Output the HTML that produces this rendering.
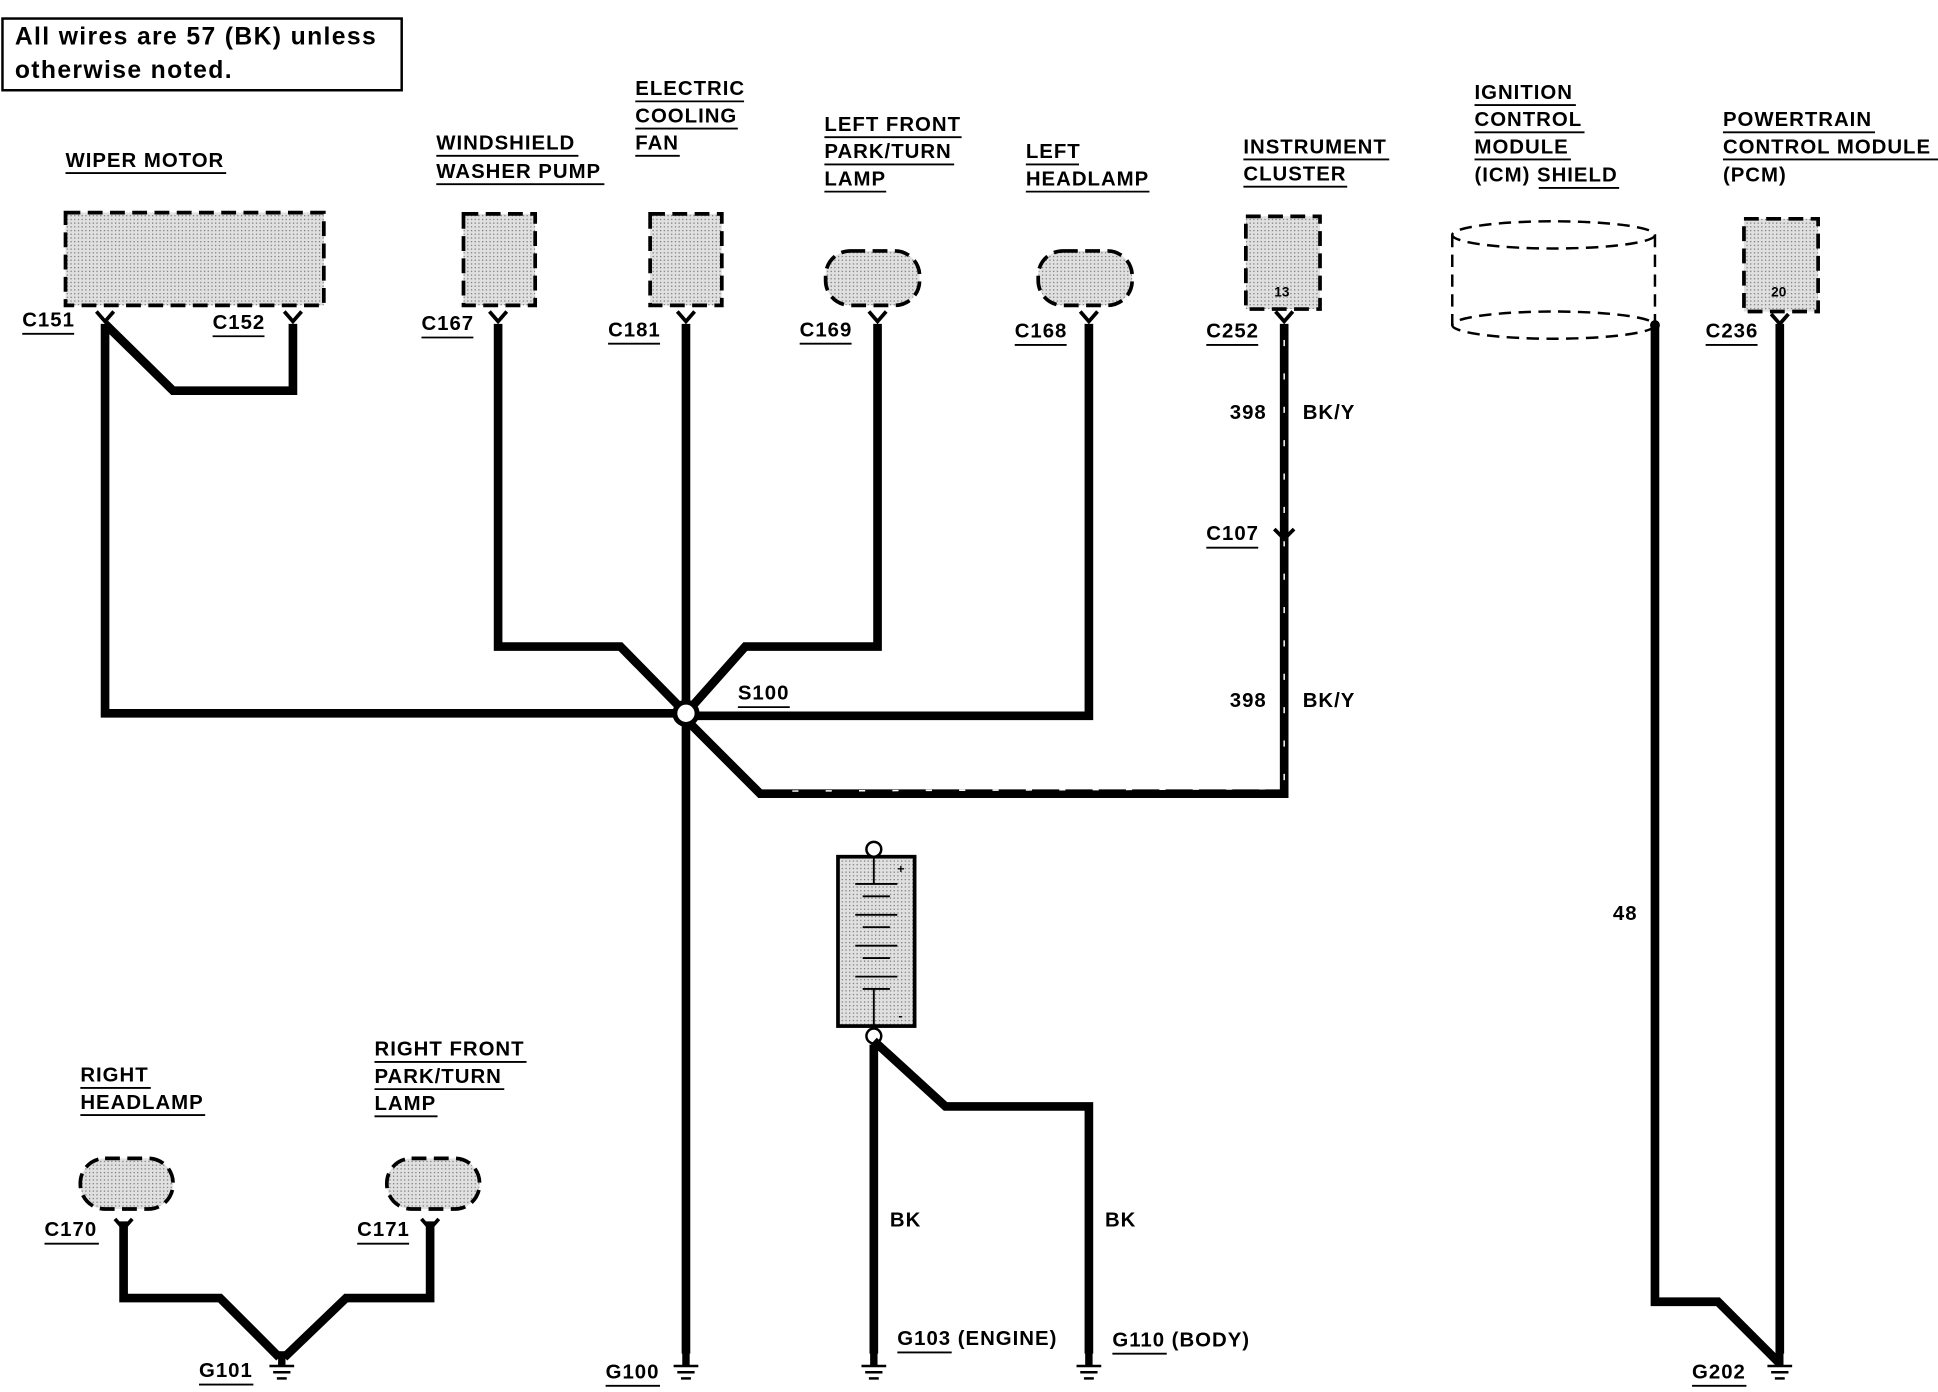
<!DOCTYPE html>
<html><head><meta charset="utf-8"><style>
html,body{margin:0;padding:0;background:#fff;}
svg{display:block;}
text{font-family:"Liberation Sans",Arial,sans-serif;font-weight:bold;fill:#000;}
.l text{font-size:16.5px;letter-spacing:0.8px;}
</style></head><body>
<svg width="1938" height="1392" viewBox="0 0 1568 1126" preserveAspectRatio="none" xmlns="http://www.w3.org/2000/svg">
<defs>
<pattern id="dots" width="3" height="3" patternUnits="userSpaceOnUse"><rect width="3" height="3" fill="#e0e0e0"/><rect width="1" height="1" fill="#777"/></pattern>
<g id="gnd"><line x1="0" y1="-12" x2="0" y2="0" stroke="#000" stroke-width="6"/><line x1="-10" y1="0" x2="10" y2="0" stroke="#000" stroke-width="2"/><line x1="-7" y1="5" x2="7" y2="5" stroke="#000" stroke-width="2"/><line x1="-4" y1="10" x2="4" y2="10" stroke="#000" stroke-width="2"/></g>
<g id="con"><path d="M-7,-6 L0,2 L7,-6" fill="none" stroke="#000" stroke-width="3"/></g>
</defs>
<rect x="2" y="15" width="323" height="58" fill="#fff" stroke="#000" stroke-width="2"/>
<text x="12" y="36" font-size="20" letter-spacing="1.1">All wires are 57 (BK) unless</text>
<text x="12" y="63" font-size="20" letter-spacing="1.1">otherwise noted.</text>

<g class="l">
<text x="53" y="135">WIPER MOTOR</text><line x1="53" y1="140" x2="183" y2="140" stroke="#000" stroke-width="1.5"/>
<text x="353" y="121">WINDSHIELD</text><line x1="353" y1="126" x2="468" y2="126" stroke="#000" stroke-width="1.5"/>
<text x="353" y="144">WASHER PUMP</text><line x1="353" y1="149" x2="489" y2="149" stroke="#000" stroke-width="1.5"/>
<text x="514" y="77">ELECTRIC</text><line x1="514" y1="82" x2="602" y2="82" stroke="#000" stroke-width="1.5"/>
<text x="514" y="99">COOLING</text><line x1="514" y1="104" x2="597" y2="104" stroke="#000" stroke-width="1.5"/>
<text x="514" y="121">FAN</text><line x1="514" y1="126" x2="550" y2="126" stroke="#000" stroke-width="1.5"/>
<text x="667" y="106">LEFT FRONT</text><line x1="667" y1="111" x2="778" y2="111" stroke="#000" stroke-width="1.5"/>
<text x="667" y="128">PARK/TURN</text><line x1="667" y1="133" x2="772" y2="133" stroke="#000" stroke-width="1.5"/>
<text x="667" y="150">LAMP</text><line x1="667" y1="155" x2="717" y2="155" stroke="#000" stroke-width="1.5"/>
<text x="830" y="128">LEFT</text><line x1="830" y1="133" x2="873" y2="133" stroke="#000" stroke-width="1.5"/>
<text x="830" y="150">HEADLAMP</text><line x1="830" y1="155" x2="930" y2="155" stroke="#000" stroke-width="1.5"/>
<text x="1006" y="124">INSTRUMENT</text><line x1="1006" y1="129" x2="1124" y2="129" stroke="#000" stroke-width="1.5"/>
<text x="1006" y="146">CLUSTER</text><line x1="1006" y1="151" x2="1090" y2="151" stroke="#000" stroke-width="1.5"/>
<text x="1193" y="80">IGNITION</text><line x1="1193" y1="85" x2="1275" y2="85" stroke="#000" stroke-width="1.5"/>
<text x="1193" y="102">CONTROL</text><line x1="1193" y1="107" x2="1282" y2="107" stroke="#000" stroke-width="1.5"/>
<text x="1193" y="124">MODULE</text><line x1="1193" y1="129" x2="1271" y2="129" stroke="#000" stroke-width="1.5"/>
<text x="1193" y="147">(ICM) SHIELD</text><line x1="1245" y1="152" x2="1310" y2="152" stroke="#000" stroke-width="1.5"/>
<text x="1394" y="102">POWERTRAIN</text><line x1="1394" y1="107" x2="1517" y2="107" stroke="#000" stroke-width="1.5"/>
<text x="1394" y="124">CONTROL MODULE</text><line x1="1394" y1="129" x2="1568" y2="129" stroke="#000" stroke-width="1.5"/>
<text x="1394" y="147">(PCM)</text>
<text x="65" y="875">RIGHT</text><line x1="65" y1="880" x2="122" y2="880" stroke="#000" stroke-width="1.5"/>
<text x="65" y="897">HEADLAMP</text><line x1="65" y1="902" x2="166" y2="902" stroke="#000" stroke-width="1.5"/>
<text x="303" y="854">RIGHT FRONT</text><line x1="303" y1="859" x2="426" y2="859" stroke="#000" stroke-width="1.5"/>
<text x="303" y="876">PARK/TURN</text><line x1="303" y1="881" x2="408" y2="881" stroke="#000" stroke-width="1.5"/>
<text x="303" y="898">LAMP</text><line x1="303" y1="903" x2="354" y2="903" stroke="#000" stroke-width="1.5"/>
</g>

<g fill="url(#dots)" stroke="#000" stroke-width="3" stroke-dasharray="12,6">
<rect x="53" y="172" width="209" height="75"/>
<rect x="375" y="173" width="58" height="74"/>
<rect x="526" y="173" width="58" height="74"/>
<rect x="668" y="203" width="76" height="44" rx="20"/>
<rect x="840" y="203" width="76" height="44" rx="20"/>
<rect x="1008" y="175" width="60" height="75"/>
<rect x="1411" y="177" width="60" height="75"/>
<rect x="65" y="937" width="75" height="41" rx="20"/>
<rect x="313" y="937" width="75" height="41" rx="20"/>
</g>
<text x="1031" y="240" font-size="11" font-weight="normal">13</text>
<text x="1433" y="240" font-size="11" font-weight="normal">20</text>
<g fill="none" stroke="#000" stroke-width="2" stroke-dasharray="10,6">
<ellipse cx="1257" cy="190" rx="82" ry="11"/>
<ellipse cx="1257" cy="263" rx="82" ry="11"/>
<line x1="1175" y1="190" x2="1175" y2="263"/>
<line x1="1339" y1="190" x2="1339" y2="263"/>
</g>
<circle cx="1339" cy="263" r="4" fill="#000"/>
<rect x="678" y="693" width="62" height="137" fill="url(#dots)" stroke="#000" stroke-width="3"/>
<g stroke="#000" stroke-width="1.5">
<line x1="692" y1="715" x2="726" y2="715"/><line x1="698" y1="725" x2="720" y2="725"/>
<line x1="692" y1="740" x2="726" y2="740"/><line x1="698" y1="750" x2="720" y2="750"/>
<line x1="692" y1="765" x2="726" y2="765"/><line x1="698" y1="775" x2="720" y2="775"/>
<line x1="692" y1="790" x2="726" y2="790"/><line x1="698" y1="800" x2="720" y2="800"/>
<line x1="707" y1="693" x2="707" y2="715"/><line x1="707" y1="800" x2="707" y2="830"/>
</g>
<text x="726" y="706" font-size="10">+</text><text x="727" y="825" font-size="10">-</text>
<circle cx="707" cy="687" r="6" fill="#fff" stroke="#000" stroke-width="2"/>
<circle cx="707" cy="838" r="6" fill="#fff" stroke="#000" stroke-width="2"/>

<g fill="none" stroke="#000" stroke-width="7" stroke-linejoin="miter">
<path d="M85,262 L85,577 L555,577"/>
<path d="M85,262 L140,316 L237,316 L237,262"/>
<path d="M403,262 L403,523 L502,523 L555,577"/>
<path d="M555,262 L555,1095"/>
<path d="M710,262 L710,523 L603,523 L555,577"/>
<path d="M881,262 L881,579 L555,579"/>
<path d="M1039,262 L1039,642 L615,642 L555,582"/>
<path d="M1339,263 L1339,1053 L1390,1053 L1440,1103"/>
<path d="M1440,262 L1440,1095"/>
<path d="M707,845 L707,1095"/>
<path d="M707,842 L765,895 L881,895 L881,1095"/>
<path d="M100,988 L100,1050 L178,1050 L226,1098"/>
<path d="M348,988 L348,1050 L280,1050 L230,1098"/>
</g>
<g fill="none" stroke="#fff" stroke-width="1.2" stroke-dasharray="5,22">
<path d="M1039,275 L1039,638 L620,640"/>
</g>
<circle cx="555" cy="577" r="9" fill="#fff" stroke="#000" stroke-width="4"/>
<use href="#con" x="85" y="258"/><use href="#con" x="237" y="258"/><use href="#con" x="403" y="258"/>
<use href="#con" x="555" y="258"/><use href="#con" x="710" y="258"/><use href="#con" x="881" y="258"/>
<use href="#con" x="1039" y="258"/><use href="#con" x="1440" y="260"/>
<use href="#con" x="100" y="992"/><use href="#con" x="348" y="992"/>
<path d="M1031,428 L1039,436 L1047,428" fill="none" stroke="#000" stroke-width="3"/>
<use href="#gnd" x="228" y="1105"/><use href="#gnd" x="555" y="1105"/><use href="#gnd" x="707" y="1105"/>
<use href="#gnd" x="881" y="1105"/><use href="#gnd" x="1440" y="1105"/>

<g class="l">
<text x="18" y="264">C151</text><line x1="18" y1="270" x2="60" y2="270" stroke="#000" stroke-width="1.5"/>
<text x="172" y="266">C152</text><line x1="172" y1="272" x2="214" y2="272" stroke="#000" stroke-width="1.5"/>
<text x="341" y="267">C167</text><line x1="341" y1="273" x2="383" y2="273" stroke="#000" stroke-width="1.5"/>
<text x="492" y="272">C181</text><line x1="492" y1="278" x2="534" y2="278" stroke="#000" stroke-width="1.5"/>
<text x="647" y="272">C169</text><line x1="647" y1="278" x2="689" y2="278" stroke="#000" stroke-width="1.5"/>
<text x="821" y="273">C168</text><line x1="821" y1="279" x2="863" y2="279" stroke="#000" stroke-width="1.5"/>
<text x="976" y="273">C252</text><line x1="976" y1="279" x2="1018" y2="279" stroke="#000" stroke-width="1.5"/>
<text x="976" y="437">C107</text><line x1="976" y1="443" x2="1018" y2="443" stroke="#000" stroke-width="1.5"/>
<text x="1380" y="273">C236</text><line x1="1380" y1="279" x2="1422" y2="279" stroke="#000" stroke-width="1.5"/>
<text x="597" y="566">S100</text><line x1="597" y1="572" x2="639" y2="572" stroke="#000" stroke-width="1.5"/>
<text x="995" y="339">398</text><text x="1054" y="339">BK/Y</text>
<text x="995" y="572">398</text><text x="1054" y="572">BK/Y</text>
<text x="1305" y="744">48</text>
<text x="720" y="992">BK</text><text x="894" y="992">BK</text>
<text x="36" y="1000">C170</text><line x1="36" y1="1006" x2="80" y2="1006" stroke="#000" stroke-width="1.5"/>
<text x="289" y="1000">C171</text><line x1="289" y1="1006" x2="331" y2="1006" stroke="#000" stroke-width="1.5"/>
<text x="161" y="1114">G101</text><line x1="161" y1="1120" x2="205" y2="1120" stroke="#000" stroke-width="1.5"/>
<text x="490" y="1115">G100</text><line x1="490" y1="1121" x2="534" y2="1121" stroke="#000" stroke-width="1.5"/>
<text x="726" y="1088">G103 (ENGINE)</text><line x1="726" y1="1094" x2="770" y2="1094" stroke="#000" stroke-width="1.5"/>
<text x="900" y="1089">G110 (BODY)</text><line x1="900" y1="1095" x2="944" y2="1095" stroke="#000" stroke-width="1.5"/>
<text x="1369" y="1115">G202</text><line x1="1369" y1="1121" x2="1413" y2="1121" stroke="#000" stroke-width="1.5"/>
</g>
</svg>
</body></html>
